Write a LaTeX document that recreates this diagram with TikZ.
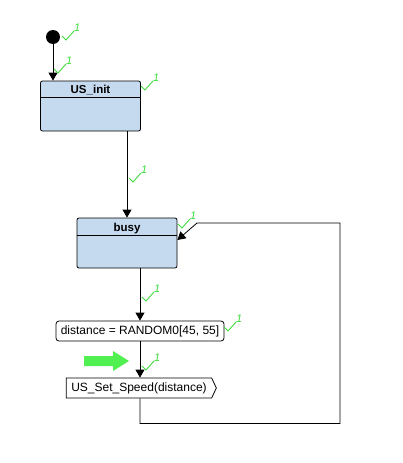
\documentclass[tikz,border=0pt]{standalone}
\usepackage{fontspec}
\setmainfont{Liberation Sans}
\usetikzlibrary{positioning, calc, arrows.meta, shapes.symbols}

\definecolor{statefill}{RGB}{197,217,239}
\definecolor{tickgreen}{RGB}{60,220,60}
\definecolor{markgreen}{RGB}{80,240,80}

\tikzset{
  state/.style={draw, fill=statefill, rounded corners=2pt, minimum width=100pt, minimum height=50pt, inner sep=0pt, line width=0.8pt},
  statename/.style={font=\fontsize{11.5}{13}\selectfont\bfseries, inner sep=0pt},
  action/.style={draw, rounded corners=3pt, minimum width=168pt, minimum height=20pt, inner sep=0pt, line width=0.8pt, font=\fontsize{12}{14}\selectfont},
  sendsig/.style={draw, signal, signal to=east, signal pointer angle=130, minimum width=150pt, minimum height=20pt, inner sep=0pt, line width=0.8pt, font=\fontsize{12}{14}\selectfont},
  flow/.style={-{Triangle[length=8pt,width=9pt]}, line width=0.8pt},
  tick/.pic={
    \draw[tickgreen, line width=0.9pt] (0,0) -- (4,4) -- (12,-5);
    \node[tickgreen, font=\fontsize{11}{11}\selectfont\itshape, anchor=south west, inner sep=0pt] at (12,-4) {1};
  }
}

\begin{document}
\begin{tikzpicture}[x=1pt, y=-1pt]
    \useasboundingbox (0,0) rectangle (403,463);

    % Initial state
    \node[circle, fill, minimum size=14pt, inner sep=0pt] (start) at (53,37) {};

    % States
    \node[state] (init) at (90.5,106) {};
    \node[statename] (initname) at ([yshift=-9.5pt]init.north) {US\_init};
    \draw[line width=0.8pt] ([yshift=-17pt]init.north west) -- ([yshift=-17pt]init.north east);

    \node[state] (busy) at (127,243) {};
    \node[statename] (busyname) at ([yshift=-10.5pt]busy.north) {busy};
    \draw[line width=0.8pt] ([yshift=-18pt]busy.north west) -- ([yshift=-18pt]busy.north east);

    % Action and output signal
    \node[action] (dist) at (140,331) {distance = RANDOM0[45, 55]};
    \node[sendsig] (speed) at (139,388) {US\_Set\_Speed(distance)};

    % Transitions
    \draw[flow] (start) -- (start |- init.north);
    \draw[flow] (init.south -| busy.north) -- (busy.north);
    \draw[flow] (busy.south -| dist.north) -- (dist.north);
    \draw[flow] (dist.south) -- (dist.south |- speed.north);
    \coordinate (ret) at (197,223);
    \draw[flow] (dist.south |- speed.south) -- ++(0,25) -| (340,223) -- (ret) -- ([yshift=3pt]busy.east);

    % Current position marker
    \fill[markgreen] (84,356) -- (113,356) -- (113,351) -- (129,361) -- (113,371) -- (113,366) -- (84,366) -- cycle;

    % Coverage ticks
    \pic at (62,36) {tick};
    \pic at (54,69) {tick};
    \pic at (141,86) {tick};
    \pic at (129,178) {tick};
    \pic at (178,224) {tick};
    \pic at (142,297) {tick};
    \pic at (224,327) {tick};
    \pic at (142,366) {tick};

\end{tikzpicture}
\end{document}
